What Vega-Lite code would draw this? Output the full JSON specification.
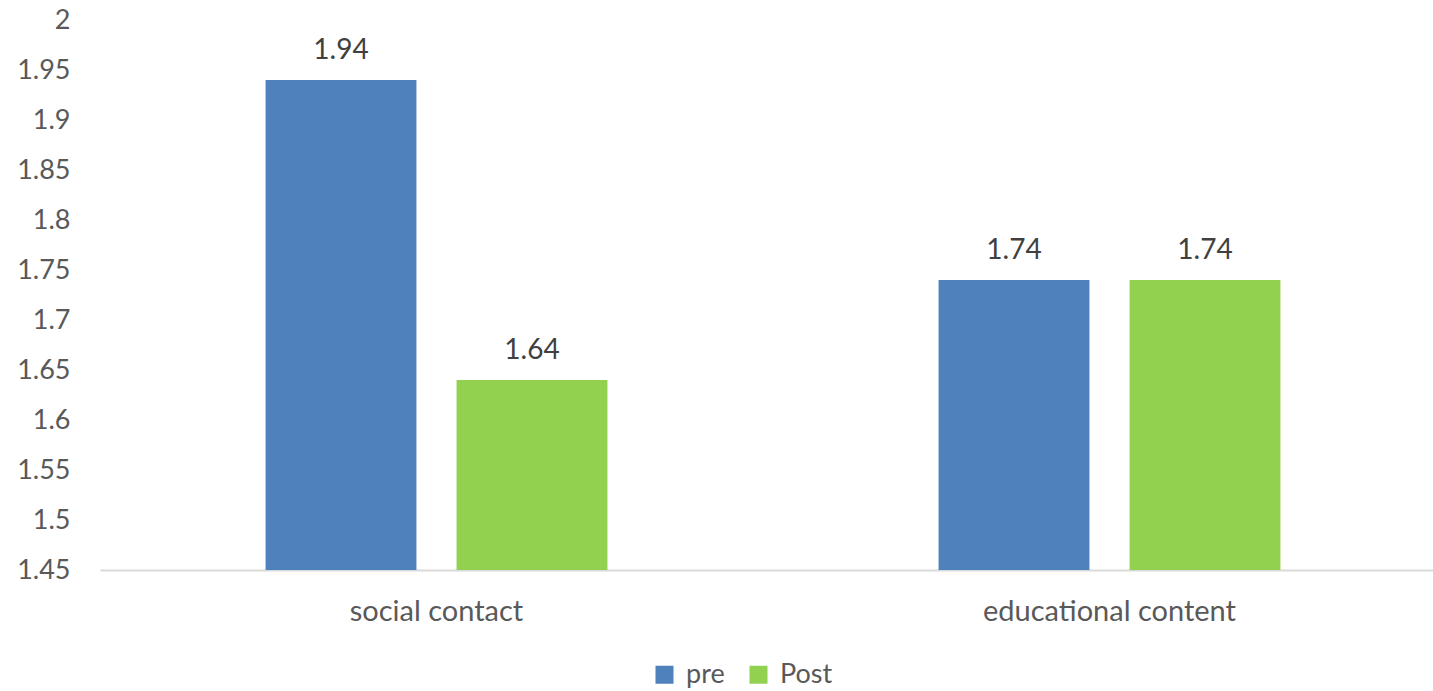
{
  "$schema": "https://vega.github.io/schema/vega-lite/v6.json",
  "width": 1346,
  "height": 550,
  "autosize": {"type": "none"},
  "padding": {"left": 100, "top": 20, "right": 0, "bottom": 121},
  "background": "white",
  "config": {
    "view": {"stroke": null},
    "font": "Lato",
    "axis": {"labelFont": "Lato", "labelColor": "#595959", "labelFontSize": 27, "labelLimit": 500, "grid": false, "ticks": false, "domain": false, "title": null},
    "legend": {"labelFont": "Lato", "labelColor": "#595959", "labelFontSize": 27}
  },
  "data": {
    "values": [
      {"category": "social contact", "series": "pre", "value": 1.94},
      {"category": "social contact", "series": "Post", "value": 1.64},
      {"category": "educational content", "series": "pre", "value": 1.74},
      {"category": "educational content", "series": "Post", "value": 1.74}
    ]
  },
  "encoding": {
    "x": {
      "field": "category", "type": "nominal", "sort": ["social contact", "educational content"],
      "scale": {"paddingInner": 0.492, "paddingOuter": 0.246},
      "axis": {"labelAngle": 0, "labelPadding": 27, "labelFontSize": 29, "domain": true, "domainColor": "#d9d9d9", "domainWidth": 2}
    },
    "xOffset": {"field": "series", "type": "nominal", "sort": ["pre", "Post"], "scale": {"paddingInner": 0.21, "paddingOuter": 0}},
    "y": {
      "field": "value", "type": "quantitative",
      "scale": {"domain": [1.45, 2], "zero": false, "nice": false},
      "axis": {"values": [1.45, 1.5, 1.55, 1.6, 1.65, 1.7, 1.75, 1.8, 1.85, 1.9, 1.95, 2], "labelPadding": 30, "labelExpr": "format(datum.value, '.2~f')"}
    }
  },
  "layer": [
    {
      "mark": {"type": "bar", "clip": true},
      "encoding": {
        "color": {
          "field": "series", "type": "nominal", "sort": ["pre", "Post"],
          "scale": {"domain": ["pre", "Post"], "range": ["#4F81BD", "#92D050"]},
          "legend": {"orient": "none", "legendX": 551, "legendY": 641, "direction": "horizontal", "title": null, "symbolType": "square", "symbolSize": 324, "symbolStrokeWidth": 0, "labelOffset": 8, "columnPadding": 20}
        }
      }
    },
    {
      "mark": {"type": "text", "baseline": "bottom", "dy": -15, "fontSize": 28, "color": "#404040", "font": "Lato"},
      "encoding": {"text": {"field": "value", "type": "quantitative", "format": ".2f"}}
    }
  ]
}
